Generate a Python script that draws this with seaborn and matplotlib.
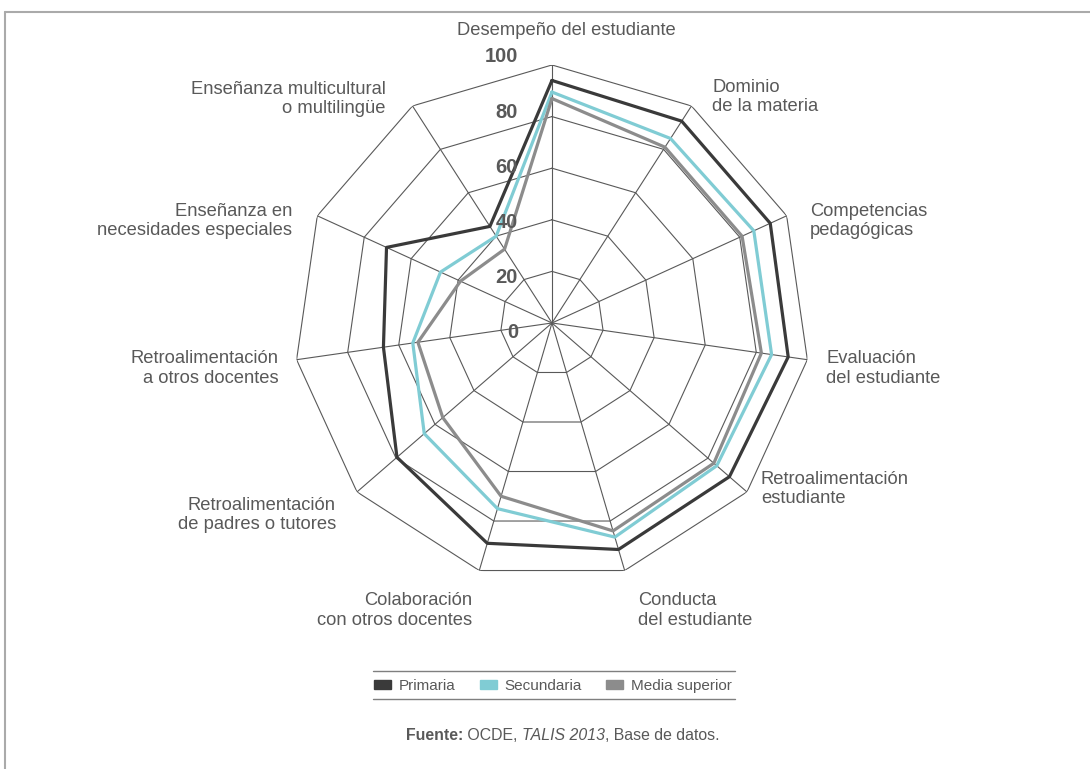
import numpy as np
import pandas as pd
import matplotlib
matplotlib.use("Agg")
import matplotlib.pyplot as plt
from matplotlib.patches import Patch
from matplotlib.lines import Line2D
from matplotlib.transforms import offset_copy
import seaborn as sns

# categories, clockwise from the top
categorias = [
    "Desempeño del estudiante",
    "Dominio\nde la materia",
    "Competencias\npedagógicas",
    "Evaluación\ndel estudiante",
    "Retroalimentación\nestudiante",
    "Conducta\ndel estudiante",
    "Colaboración\ncon otros docentes",
    "Retroalimentación\nde padres o tutores",
    "Retroalimentación\na otros docentes",
    "Enseñanza en\nnecesidades especiales",
    "Enseñanza multicultural\no multilingüe",
]

primaria = [94, 93, 93, 92.5, 91, 91.5, 89, 79.5, 66, 70.5, 44.5]
secundaria = [89.5, 85, 86, 86, 84.5, 86.5, 75, 65.5, 54.5, 47.5, 40]
media_superior = [87, 81, 81, 82, 83, 84, 70, 56, 52.5, 39, 34]

niveles = ["Primaria", "Secundaria", "Media superior"]
colores = ["#3a3a3a", "#80ccd4", "#8c8c8c"]
ticks = [0, 20, 40, 60, 80, 100]

# label placement (pixel offsets from the 100 ring vertex)
label_off = [(14, 34, "center"), (21, 9, "left"), (23, -5, "left"), (19, -9, "left"),
             (14, 3, "left"), (13, -40, "left"), (-7, -40, "right"), (-21, -23, "right"),
             (-18, -9, "right"), (-25, -5, "right"), (-27, 7, "right")]

sns.set_style("white")
plt.rcParams['font.family'] = ['Liberation Sans', 'DejaVu Sans']
gris = "#595959"

n = len(categorias)
ang = np.linspace(0, 2 * np.pi, n, endpoint=False)
ang_c = np.append(ang, 2 * np.pi)

filas = []
for nombre, vals in zip(niveles, [primaria, secundaria, media_superior]):
    for a, v in zip(ang_c, vals + vals[:1]):
        filas.append({"theta": a, "valor": v, "nivel": nombre})
df = pd.DataFrame(filas)

fig = plt.figure(figsize=(10.9, 7.69), dpi=100)
ax = fig.add_axes([0.2697, 0.2445, 0.4734, 0.671], projection="polar")
ax.set_theta_zero_location("N")
ax.set_theta_direction(-1)
ax.set_ylim(0, 100)
ax.grid(False)
ax.spines["polar"].set_visible(False)
ax.set_xticks([])
ax.set_yticks([])

# polygon grid
for t in ticks[1:]:
    ax.plot(ang_c, [t] * (n + 1), color=gris, lw=0.8, zorder=1)
for a in ang:
    ax.plot([a, a], [0, 100], color=gris, lw=0.8, zorder=1)

sns.lineplot(data=df, x="theta", y="valor", hue="nivel", palette=colores,
             hue_order=niveles, sort=False, estimator=None, linewidth=2.3,
             legend=False, ax=ax, zorder=3)
ax.set_xlabel("")
ax.set_ylabel("")

# value labels
for t in ticks:
    tr = offset_copy(ax.transData, fig=fig, x=-34, y=t * 2.76 - 10, units="dots")
    ax.text(0, 0, str(t), transform=tr, ha="right", va="center",
            fontsize=14.5, fontweight="bold", color=gris, zorder=4)

# category labels
for a, lab, (dx, dy, ha) in zip(ang, categorias, label_off):
    tr = offset_copy(ax.transData, fig=fig, x=dx, y=dy, units="dots")
    ax.text(a, 100, lab, transform=tr, ha=ha, va="center", multialignment=ha,
            fontsize=13.2, color=gris, linespacing=1.2)

# legend
handles = [Patch(facecolor=c, edgecolor=c) for c in colores]
fig.legend(handles, niveles, loc="center", bbox_to_anchor=(553 / 1090, 1 - 686 / 769),
           ncol=3, frameon=False, fontsize=11, handlelength=1.1, handleheight=0.6,
           handletextpad=0.5, columnspacing=1.6, labelcolor=gris)
for yy in [671, 699]:
    fig.add_artist(Line2D([373 / 1090, 735 / 1090], [1 - yy / 769] * 2,
                          color="#7f7f7f", lw=1))

# source, built from pieces
fs = 11.4
t1 = fig.text(406 / 1090, 1 - 743 / 769, "Fuente:", ha="left", va="bottom",
              fontsize=fs, fontweight="bold", color=gris)
t2 = plt.annotate(" OCDE, ", xy=(1, 0), xycoords=t1, va="bottom", ha="left",
                  fontsize=fs, color=gris, annotation_clip=False)
t3 = plt.annotate("TALIS 2013", xy=(1, 0), xycoords=t2, va="bottom", ha="left",
                  fontsize=fs, color=gris, style="italic", annotation_clip=False)
t4 = plt.annotate(", Base de datos.", xy=(1, 0), xycoords=t3, va="bottom", ha="left",
                  fontsize=fs, color=gris, annotation_clip=False)

# outer frame
fig.add_artist(Line2D([5 / 1090, 5 / 1090], [0, 1 - 12 / 769], color="#aaaaaa", lw=1.5))
fig.add_artist(Line2D([5 / 1090, 1], [1 - 12 / 769] * 2, color="#aaaaaa", lw=1.5))

fig.savefig("out.png", dpi=100)
